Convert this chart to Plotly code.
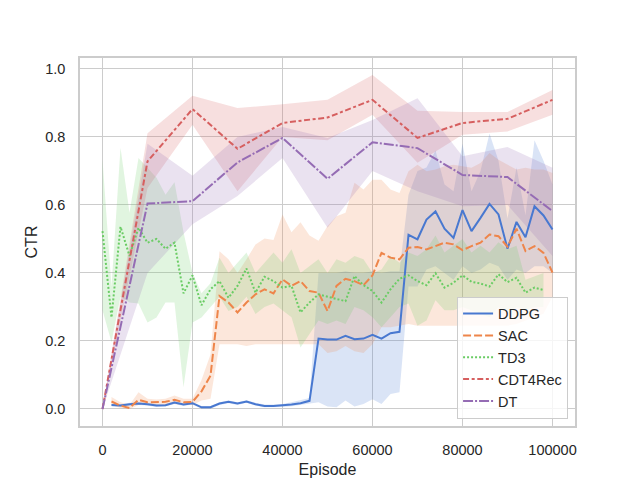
import plotly.graph_objects as go

# episode grids
ep_td3 = [0, 2000, 4000, 6000, 8000, 10000, 12000, 14000, 16000, 18000,
          20000, 22000, 24000, 26000, 28000, 30000, 32000, 34000, 36000, 38000,
          40000, 42000, 44000, 46000, 48000, 50000, 52000, 54000, 56000, 58000,
          60000, 62000, 64000, 66000, 68000, 70000, 72000, 74000, 76000, 78000,
          80000, 82000, 84000, 86000, 88000, 90000, 92000, 94000, 96000, 98000]
ep_rl = [2000, 4000, 6000, 8000, 10000, 12000, 14000, 16000, 18000, 20000,
         22000, 24000, 26000, 28000, 30000, 32000, 34000, 36000, 38000, 40000,
         42000, 44000, 46000, 48000, 50000, 52000, 54000, 56000, 58000, 60000,
         62000, 64000, 66000, 68000, 70000, 72000, 74000, 76000, 78000, 80000,
         82000, 84000, 86000, 88000, 90000, 92000, 94000, 96000, 98000, 100000]
ep_dt = [0, 10000, 20000, 30000, 40000, 50000, 60000, 70000, 80000, 90000, 100000]

ddpg = [0.012, 0.010, 0.014, 0.016, 0.014, 0.010, 0.011, 0.019, 0.013, 0.017,
        0.005, 0.005, 0.016, 0.021, 0.016, 0.022, 0.014, 0.009, 0.009, 0.010,
        0.013, 0.017, 0.024, 0.207, 0.204, 0.204, 0.215, 0.205, 0.207, 0.218,
        0.207, 0.223, 0.227, 0.512, 0.499, 0.557, 0.581, 0.530, 0.503, 0.585,
        0.523, 0.562, 0.603, 0.572, 0.471, 0.550, 0.505, 0.596, 0.569, 0.528]
ddpg_hi = [0.016, 0.014, 0.018, 0.020, 0.018, 0.014, 0.015, 0.023, 0.017, 0.021,
           0.009, 0.009, 0.020, 0.025, 0.020, 0.026, 0.018, 0.013, 0.013, 0.015,
           0.020, 0.026, 0.032, 0.400, 0.400, 0.400, 0.405, 0.400, 0.400, 0.405,
           0.400, 0.405, 0.405, 0.630, 0.700, 0.710, 0.760, 0.660, 0.640, 0.780,
           0.640, 0.700, 0.810, 0.730, 0.560, 0.710, 0.570, 0.790, 0.730, 0.660]
ddpg_lo = [0.008, 0.006, 0.010, 0.012, 0.010, 0.006, 0.007, 0.015, 0.009, 0.013,
           0.001, 0.001, 0.012, 0.017, 0.012, 0.018, 0.010, 0.005, 0.005, 0.006,
           0.008, 0.010, 0.016, 0.020, 0.007, 0.005, 0.025, 0.007, 0.015, 0.029,
           0.015, 0.044, 0.049, 0.360, 0.360, 0.410, 0.420, 0.400, 0.380, 0.420,
           0.400, 0.410, 0.430, 0.420, 0.380, 0.410, 0.400, 0.420, 0.420, 0.400]

sac = [0.022, 0.010, 0.003, 0.027, 0.020, 0.020, 0.021, 0.027, 0.020, 0.021,
       0.052, 0.098, 0.332, 0.313, 0.284, 0.313, 0.337, 0.352, 0.340, 0.381,
       0.362, 0.376, 0.347, 0.342, 0.288, 0.362, 0.383, 0.376, 0.364, 0.393,
       0.459, 0.445, 0.440, 0.474, 0.476, 0.469, 0.479, 0.489, 0.484, 0.467,
       0.479, 0.489, 0.513, 0.508, 0.477, 0.530, 0.464, 0.479, 0.459, 0.401]
sac_hi = [0.035, 0.020, 0.012, 0.049, 0.030, 0.028, 0.030, 0.040, 0.030, 0.030,
          0.085, 0.160, 0.464, 0.440, 0.400, 0.440, 0.484, 0.501, 0.497, 0.572,
          0.520, 0.549, 0.510, 0.495, 0.538, 0.567, 0.577, 0.665, 0.645, 0.674,
          0.674, 0.645, 0.635, 0.699, 0.718, 0.699, 0.704, 0.714, 0.718, 0.714,
          0.709, 0.723, 0.753, 0.733, 0.718, 0.704, 0.709, 0.704, 0.704, 0.694]
sac_lo = [0.012, 0.003, 0.000, 0.012, 0.012, 0.012, 0.012, 0.015, 0.012, 0.012,
          0.025, 0.030, 0.190, 0.190, 0.190, 0.185, 0.190, 0.190, 0.188, 0.190,
          0.190, 0.190, 0.190, 0.190, 0.165, 0.170, 0.185, 0.170, 0.165, 0.190,
          0.240, 0.240, 0.245, 0.250, 0.245, 0.245, 0.245, 0.245, 0.245, 0.245,
          0.245, 0.245, 0.245, 0.245, 0.245, 0.250, 0.260, 0.270, 0.280, 0.330]

td3 = [0.523, 0.269, 0.536, 0.450, 0.533, 0.489, 0.500, 0.471, 0.489, 0.340,
       0.393, 0.305, 0.352, 0.376, 0.327, 0.362, 0.413, 0.342, 0.389, 0.376,
       0.357, 0.362, 0.284, 0.313, 0.337, 0.330, 0.324, 0.317, 0.391, 0.364,
       0.347, 0.313, 0.352, 0.383, 0.393, 0.376, 0.364, 0.399, 0.357, 0.371,
       0.393, 0.374, 0.369, 0.360, 0.396, 0.373, 0.386, 0.342, 0.357, 0.350]
td3_hi = [0.733, 0.360, 0.768, 0.577, 0.738, 0.710, 0.680, 0.630, 0.667, 0.520,
          0.400, 0.340, 0.370, 0.445, 0.400, 0.430, 0.460, 0.400, 0.430, 0.460,
          0.430, 0.470, 0.400, 0.420, 0.440, 0.400, 0.440, 0.430, 0.450, 0.440,
          0.400, 0.410, 0.450, 0.430, 0.460, 0.450, 0.470, 0.510, 0.460, 0.480,
          0.500, 0.460, 0.480, 0.460, 0.490, 0.470, 0.480, 0.380, 0.390, 0.400]
td3_lo = [0.290, 0.196, 0.330, 0.313, 0.310, 0.254, 0.269, 0.313, 0.313, 0.064,
          0.254, 0.269, 0.300, 0.330, 0.288, 0.300, 0.330, 0.279, 0.300, 0.310,
          0.290, 0.270, 0.181, 0.220, 0.260, 0.250, 0.260, 0.250, 0.300, 0.290,
          0.270, 0.240, 0.270, 0.300, 0.310, 0.245, 0.260, 0.320, 0.290, 0.290,
          0.300, 0.290, 0.280, 0.270, 0.300, 0.280, 0.300, 0.290, 0.300, 0.300]

cdt4rec = [0.0, 0.728, 0.882, 0.765, 0.841, 0.857, 0.909, 0.797, 0.841, 0.853, 0.909]
cdt4rec_hi = [0.0, 0.811, 0.921, 0.885, 0.896, 0.909, 0.982, 0.877, 0.873, 0.873, 0.938]
cdt4rec_lo = [0.0, 0.650, 0.836, 0.640, 0.800, 0.790, 0.865, 0.724, 0.806, 0.816, 0.865]

dt = [0.0, 0.604, 0.611, 0.725, 0.797, 0.677, 0.784, 0.767, 0.688, 0.682, 0.582]
dt_hi = [0.0, 0.780, 0.686, 0.800, 0.829, 0.797, 0.850, 0.914, 0.743, 0.770, 0.709]
dt_lo = [0.0, 0.400, 0.543, 0.626, 0.738, 0.533, 0.700, 0.640, 0.596, 0.600, 0.450]

x_ticks = [0, 20000, 40000, 60000, 80000, 100000]
y_ticks = [0.0, 0.2, 0.4, 0.6, 0.8, 1.0]

# seaborn "muted" colours and default dash cycle (scaled by line width)
series = [
    ("DDPG", ep_rl, ddpg, ddpg_hi, ddpg_lo, (72, 120, 208), "solid"),
    ("SAC", ep_rl, sac, sac_hi, sac_lo, (238, 133, 74), "8px,3px"),
    ("TD3", ep_td3, td3, td3_hi, td3_lo, (106, 204, 100), "2px,2px"),
    ("CDT4Rec", ep_dt, cdt4rec, cdt4rec_hi, cdt4rec_lo, (214, 95, 95), "6px,2.6px,3px,2.6px"),
    ("DT", ep_dt, dt, dt_hi, dt_lo, (149, 108, 180), "10px,2px,2px,2px"),
]

fig = go.Figure()

# bands go underneath every line, like matplotlib's zorder
for name, ep, mean, hi, lo, rgb, dash in series:
    fig.add_trace(go.Scatter(
        x=ep + ep[::-1],
        y=hi + lo[::-1],
        fill="toself",
        fillcolor="rgba(%d,%d,%d,0.2)" % rgb,
        line=dict(width=0),
        mode="lines",
        hoverinfo="skip",
        showlegend=False,
    ))

for name, ep, mean, hi, lo, rgb, dash in series:
    fig.add_trace(go.Scatter(
        x=ep,
        y=mean,
        mode="lines",
        name=name,
        line=dict(color="rgb(%d,%d,%d)" % rgb, width=2, dash=dash),
    ))

family = "Liberation Sans, Arial, sans-serif"
tick_font = dict(family=family, size=14.5, color="#262626")
label_font = dict(family=family, size=16, color="#262626")
axis_style = dict(
    showgrid=True,
    gridcolor="#cccccc",
    gridwidth=1,
    zeroline=False,
    showline=True,
    linecolor="#cccccc",
    linewidth=1.5,
    mirror=True,
    ticks="outside",
    ticklen=10,
    tickcolor="rgba(0,0,0,0)",
    tickfont=tick_font,
)

# the page body adds 8px on the top and left, margins compensate for it
fig.update_layout(
    width=640,
    height=480,
    margin=dict(l=72, r=73, t=50, b=59),
    paper_bgcolor="white",
    plot_bgcolor="white",
    font=tick_font,
    showlegend=True,
    legend=dict(
        x=0.986, y=0.02, xanchor="right", yanchor="bottom",
        bgcolor="rgba(255,255,255,0.8)",
        bordercolor="#cccccc",
        borderwidth=1,
        font=tick_font,
        itemwidth=30,
        tracegroupgap=0,
    ),
    xaxis=dict(
        axis_style,
        range=[-5000, 105000],
        tickvals=x_ticks,
        tickformat="d",
        title=dict(text="Episode", font=label_font, standoff=7),
    ),
    yaxis=dict(
        axis_style,
        range=[-0.05, 1.032],
        tickvals=y_ticks,
        tickformat=".1f",
        title=dict(text="CTR", font=label_font, standoff=4),
    ),
)

fig.write_html("out.html")
